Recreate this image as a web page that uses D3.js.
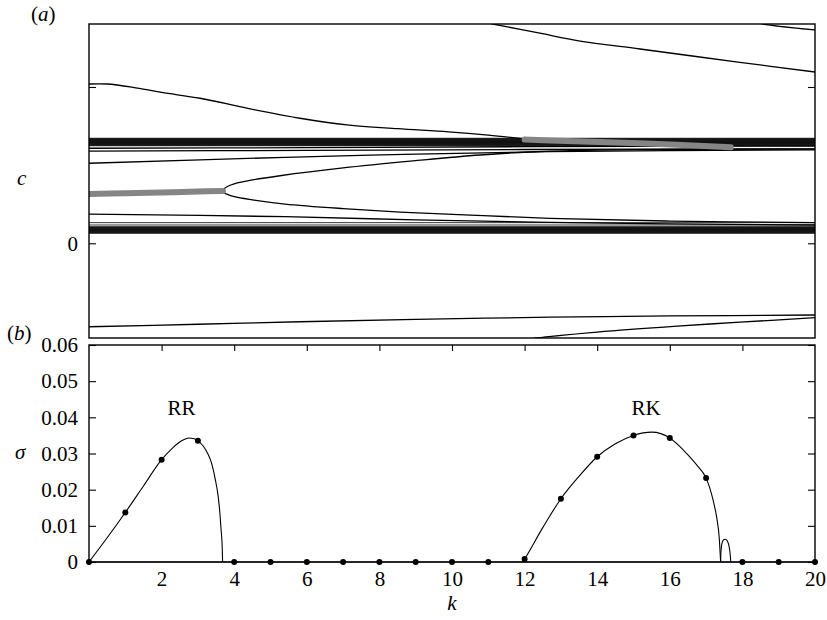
<!DOCTYPE html>
<html>
<head>
<meta charset="utf-8">
<script src="https://cdn.jsdelivr.net/npm/d3@7"></script>
<style>
  html, body { margin: 0; padding: 0; background: #fff; }
  svg { display: block; }
  text { font-family: "Times New Roman", Times, "Liberation Serif", "Nimbus Roman", serif; fill: #000; }
</style>
</head>
<body>
<svg id="chart" width="827" height="620"></svg>
<script>
// ---- wavenumber axis ----
const kTicksTop = [2, 4, 6, 8, 10, 12, 14, 16, 18];
const kTickLabels = [2, 4, 6, 8, 10, 12, 14, 16, 18, 20];

// ---- panel (a): phase speed c against k ----
const cTicks = [0, 1];
// continuous spectrum, upper and lower clusters (constant in k)
const upperContinuum = [0.672, 0.669, 0.666, 0.663, 0.660, 0.657, 0.654, 0.651, 0.648,
                        0.645, 0.642, 0.639, 0.636, 0.633, 0.630, 0.627, 0.624];
const lowerContinuum = [0.132, 0.117, 0.106, 0.103, 0.100, 0.097, 0.094, 0.091, 0.088, 0.085,
                        0.082, 0.079, 0.076, 0.073, 0.070, 0.067, 0.064];
// discrete neutral branches [k, c]
const branchA = [[10.9, 1.415], [11.13, 1.403], [12.42, 1.344], [13.53, 1.294], [15.18, 1.243], [17.93, 1.158], [20, 1.096]];
const branchB = [[18.3, 1.42], [18.57, 1.403], [20, 1.365]];
const branchC = [[0, 1.019], [0.5, 1.019], [1.21, 0.998], [2, 0.965], [3.06, 0.928], [4.4, 0.862], [5.81, 0.800],
                 [7.11, 0.757], [8.5, 0.733], [9.9, 0.713], [11, 0.692], [12.0, 0.668]];
const branchL1 = [[0, 0.608], [6, 0.612], [12, 0.618], [20, 0.622]];
const branchL2 = [[0, 0.590], [6, 0.594], [12, 0.600], [20, 0.604]];
const branchD = [[0, 0.512], [5.4, 0.550], [9, 0.570], [12.7, 0.586], [20, 0.598]];
const branchUpper = [[3.69, 0.335], [3.72, 0.349], [3.8, 0.362], [4.0, 0.380], [4.5, 0.405], [5.26, 0.432],
                     [7.0, 0.482], [8.93, 0.527], [10.77, 0.565], [12.7, 0.590], [15, 0.599], [20, 0.603]];
const branchLower = [[3.69, 0.335], [3.72, 0.324], [3.8, 0.314], [4.0, 0.298], [4.5, 0.278], [5.4, 0.251],
                     [7.0, 0.222], [8.57, 0.200], [10.5, 0.180], [12.7, 0.160], [16, 0.142], [20, 0.132]];
const branchE = [[0, 0.187], [5.4, 0.170], [9, 0.150], [12.7, 0.134], [16, 0.124], [20, 0.117]];
const branchF = [[0, -0.534], [3, -0.518], [5.81, -0.502], [9, -0.487], [12.7, -0.473], [16, -0.465], [20, -0.459]];
const branchG = [[12.2, -0.612], [12.34, -0.606], [14, -0.568], [16.2, -0.530], [17.93, -0.505], [20, -0.476]];
// real part of unstable modes (grey)
const unstableRR = [[0, 0.315], [1, 0.320], [2, 0.325], [3, 0.331], [3.69, 0.335]];
const unstableRK = [[12.0, 0.664], [12.7, 0.658], [15.18, 0.640], [17.68, 0.614]];

// ---- panel (b): growth rate sigma against k ----
const sigmaTicks = [0, 0.01, 0.02, 0.03, 0.04, 0.05, 0.06];
const curveRR = [[0, 0], [0.5, 0.0067], [1, 0.0137], [1.5, 0.0210], [2, 0.0283], [2.3, 0.0315], [2.55, 0.0335],
                 [2.75, 0.0343], [2.9, 0.0341], [3.0, 0.0335], [3.15, 0.0320], [3.28, 0.0298], [3.38, 0.0272],
                 [3.48, 0.0228], [3.56, 0.0180], [3.61, 0.0130], [3.64, 0.0088], [3.67, 0.0040], [3.68, 0]];
const curveRK = [[11.95, 0], [12, 0.0008], [12.5, 0.0095], [13, 0.0175], [13.5, 0.0237], [14, 0.0291],
                 [14.5, 0.0327], [15, 0.0350], [15.5, 0.0359], [16, 0.0343], [16.25, 0.0322], [16.5, 0.0296],
                 [16.75, 0.0267], [17, 0.0232], [17.1, 0.0205], [17.2, 0.0168], [17.29, 0.0124],
                 [17.36, 0.0069], [17.40, 0]];
const curveBump = [[17.40, 0], [17.41, 0.0030], [17.44, 0.0053], [17.49, 0.0062], [17.53, 0.0063],
                   [17.58, 0.0059], [17.63, 0.0045], [17.66, 0.0025], [17.68, 0]];
const curveZero = [[0, 0], [20, 0]];
const sampleK = [0, 1, 2, 3, 4, 5, 6, 7, 8, 9, 10, 11, 12, 13, 14, 15, 16, 17, 18, 19, 20];
const sampleSigma = [0, 0.0137, 0.0283, 0.0335, 0, 0, 0, 0, 0, 0, 0, 0,
                     0.0008, 0.0175, 0.0291, 0.0350, 0.0343, 0.0232, 0, 0, 0];

// ---- layout ----
const L = 89, R = 815;
const aTop = 24, aBot = 338;
const bTop = 345, bBot = 562;
const FS = 21;

const svg = d3.select("#chart");
const x = d3.scaleLinear().domain([0, 20]).range([L, R]);
const yc = d3.scaleLinear().domain([-0.606, 1.403]).range([aBot, aTop]);
const ys = d3.scaleLinear().domain([0, 0.06]).range([bBot, bTop]);

svg.append("clipPath").attr("id", "clipA")
  .append("rect").attr("x", L).attr("y", aTop).attr("width", R - L).attr("height", aBot - aTop);

// ---- panel (a) ----
const gA = svg.append("g");
const lineC = d3.line().x(d => x(d[0])).y(d => yc(d[1])).curve(d3.curveCatmullRom.alpha(0.5));
const plotA = gA.append("g").attr("clip-path", "url(#clipA)");

plotA.selectAll("line.up").data(upperContinuum).join("line")
  .attr("x1", x(0)).attr("x2", x(20))
  .attr("y1", d => yc(d)).attr("y2", d => yc(d))
  .attr("stroke", "#000").attr("stroke-width", 0.8);
plotA.selectAll("line.lo").data(lowerContinuum).join("line")
  .attr("x1", x(0)).attr("x2", x(20))
  .attr("y1", d => yc(d)).attr("y2", d => yc(d))
  .attr("stroke", "#000").attr("stroke-width", 0.8);

const neutral = [branchA, branchB, branchC, branchL1, branchL2, branchD, branchUpper, branchLower,
                 branchE, branchF, branchG];
plotA.selectAll("path.neutral").data(neutral).join("path")
  .attr("d", lineC).attr("fill", "none").attr("stroke", "#000").attr("stroke-width", 1.3);

plotA.selectAll("path.unstable").data([unstableRR, unstableRK]).join("path")
  .attr("d", lineC)
  .attr("fill", "none").attr("stroke", "#858585").attr("stroke-width", 6)
  .attr("stroke-linecap", "round");

// axes of (a)
const axA = gA.append("g").attr("transform", `translate(${L},0)`)
  .call(d3.axisLeft(yc).tickValues(cTicks).tickSizeInner(-7).tickSizeOuter(0).tickPadding(11)
    .tickFormat(d => d === 0 ? "0" : ""));
const axAR = gA.append("g").attr("transform", `translate(${R},0)`)
  .call(d3.axisRight(yc).tickValues(cTicks).tickSizeInner(-7).tickSizeOuter(0).tickFormat(""));

function styleAxis(g) {
  g.select(".domain").remove();
  g.selectAll("line").attr("stroke", "#000").attr("stroke-width", 1.1);
  g.attr("font-family", null).attr("font-size", null);
  g.selectAll("text").style("font-size", FS + "px");
}
[axA, axAR].forEach(styleAxis);
gA.append("rect").attr("x", L).attr("y", aTop).attr("width", R - L).attr("height", aBot - aTop)
  .attr("fill", "none").attr("stroke", "#000").attr("stroke-width", 1.4);

// ---- panel (b) ----
const gB = svg.append("g");
const lineS = d3.line().x(d => x(d[0])).y(d => ys(d[1])).curve(d3.curveMonotoneX);

gB.selectAll("path.sig").data([curveZero, curveRR, curveRK, curveBump]).join("path")
  .attr("d", lineS).attr("fill", "none").attr("stroke", "#000").attr("stroke-width", 1.1);

const axBL = gB.append("g").attr("transform", `translate(${L},0)`)
  .call(d3.axisLeft(ys).tickValues(sigmaTicks).tickSizeInner(-7).tickSizeOuter(0).tickPadding(11)
    .tickFormat(d => d === 0 ? "0" : d3.format(".2f")(d)));
const axBR = gB.append("g").attr("transform", `translate(${R},0)`)
  .call(d3.axisRight(ys).tickValues(sigmaTicks).tickSizeInner(-7).tickSizeOuter(0).tickFormat(""));
const axBT = gB.append("g").attr("transform", `translate(0,${bTop})`)
  .call(d3.axisTop(x).tickValues(kTicksTop).tickSizeInner(-6).tickSizeOuter(0).tickFormat(""));
const axBB = gB.append("g").attr("transform", `translate(0,${bBot})`)
  .call(d3.axisBottom(x).tickValues(kTickLabels).tickSizeInner(0).tickSizeOuter(0).tickPadding(9)
    .tickFormat(d3.format("d")));
[axBL, axBR, axBT, axBB].forEach(styleAxis);
gB.append("rect").attr("x", L).attr("y", bTop).attr("width", R - L).attr("height", bBot - bTop)
  .attr("fill", "none").attr("stroke", "#000").attr("stroke-width", 1.4);

gB.selectAll("circle.pt").data(sampleK.map((k, i) => [k, sampleSigma[i]])).join("circle")
  .attr("cx", d => x(d[0])).attr("cy", d => ys(d[1])).attr("r", 3).attr("fill", "#000");

// ---- labels ----
function panelLabel(px, py, letter) {
  const t = svg.append("text").attr("x", px).attr("y", py).style("font-size", FS + "px");
  t.append("tspan").text("(");
  t.append("tspan").style("font-style", "italic").text(letter);
  t.append("tspan").text(")");
}
panelLabel(31, 21, "a");
panelLabel(7, 340, "b");

svg.append("text").attr("x", 17).attr("y", 185).style("font-size", FS + "px")
  .style("font-style", "italic").text("c");
svg.append("text").attr("x", 15).attr("y", 459).style("font-size", FS + "px")
  .style("font-style", "italic").text("σ");
svg.append("text").attr("x", x(10)).attr("y", 610).attr("text-anchor", "middle").style("font-size", FS + "px")
  .style("font-style", "italic").text("k");
svg.append("text").attr("x", x(2.55)).attr("y", 415).attr("text-anchor", "middle").style("font-size", FS + "px").text("RR");
svg.append("text").attr("x", x(15.35)).attr("y", 415).attr("text-anchor", "middle").style("font-size", FS + "px").text("RK");
</script>
</body>
</html>
